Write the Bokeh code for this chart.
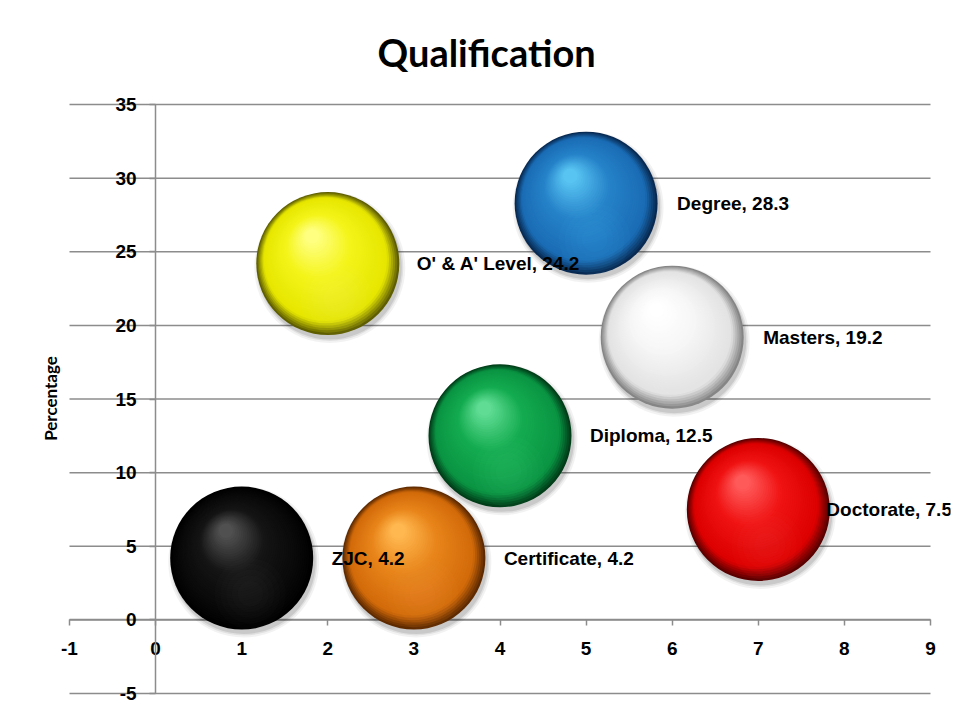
import numpy as np
from bokeh.plotting import figure
from bokeh.models import FixedTicker, Title, ColumnDataSource
from bokeh.embed import file_html
from bokeh.resources import INLINE
from bokeh.core.properties import value

# ---------------- data ----------------
categories = ["ZJC", "O' &  A' Level", "Certificate", "Diploma", "Degree", "Masters", "Doctorate"]
x_pos = [1, 2, 3, 4, 5, 6, 7]
percentage = [4.2, 24.2, 4.2, 12.5, 28.3, 19.2, 7.5]
x_ticks = [-1, 0, 1, 2, 3, 4, 5, 6, 7, 8, 9]
y_ticks = [-5, 0, 5, 10, 15, 20, 25, 30, 35]

# ---------------- style ----------------
rim_col = ["#000000", "#5e5e00", "#5e2a00", "#003d18", "#082a52", "#858585", "#5a0000"]
base_col = ["#070707", "#e6e600", "#d26a0a", "#0a9443", "#1a6cb4", "#e2e2e2", "#dc0000"]
mid_col = ["#151515", "#f4f41a", "#e8851a", "#14ac50", "#2683c9", "#f6f6f6", "#f01414"]
hi_col = ["#505050", "#ffff80", "#ffb850", "#60dc94", "#58c4f2", "#ffffff", "#ff5a5a"]
label_dx = [90, 89, 90, 90, 91, 91, 68]

# pixel layout (canvas coordinates)
W, H = 952, 710
AX_L, AX_R = 69, 930      # pixel of x=-1 and x=9
AX_T, AX_B = 104, 693     # pixel of y=35 and y=-5
FR_L, FR_R = 60, 950      # frame edges (a little beyond the axis box so labels are not clipped)
FR_T, FR_B = 90, 706
PX_X = (AX_R - AX_L) / (x_ticks[-1] - x_ticks[0])
PX_Y = (AX_B - AX_T) / (y_ticks[-1] - y_ticks[0])
x_start = x_ticks[0] - (AX_L - FR_L) / PX_X
x_end = x_ticks[-1] + (FR_R - AX_R) / PX_X
y_start = y_ticks[0] - (FR_B - AX_B) / PX_Y
y_end = y_ticks[-1] + (AX_T - FR_T) / PX_Y

D = 143.0
R = D / 2
FONT = "Liberation Sans"
GRID_COL = "#8c8c8c"

p = figure(width=W, height=H, output_backend="svg", toolbar_location=None,
           x_range=(x_start, x_end), y_range=(y_start, y_end),
           min_border_left=FR_L, min_border_right=W - FR_R,
           min_border_top=FR_T, min_border_bottom=H - FR_B,
           background_fill_color="white", border_fill_color="white")
p.outline_line_color = None

p.title.text = "Qualification"
p.title.text_font = "Lato"
p.title.text_font_style = "bold"
p.title.text_font_size = "38px"
p.title.text_color = "black"
p.title.align = "left"
p.title.offset = 317
p.title.standoff = 31

p.add_layout(Title(text="Percentage", align="center", text_font="Lato",
                   text_font_style="bold", text_font_size="17px",
                   text_color="black", standoff=0), "left")

# axes crossing at zero
for ax in (p.xaxis[0], p.yaxis[0]):
    ax.fixed_location = 0
    ax.axis_line_color = GRID_COL
    ax.axis_line_width = 1.5
    ax.major_tick_line_color = GRID_COL
    ax.major_tick_line_width = 1.5
    ax.minor_tick_line_color = None
    ax.major_tick_in = 0
    ax.major_tick_out = 6
    ax.major_label_text_font = FONT
    ax.major_label_text_font_style = "bold"
    ax.major_label_text_font_size = "19px"
    ax.major_label_text_color = "black"
    ax.level = "underlay"
p.xaxis.ticker = FixedTicker(ticks=x_ticks)
p.yaxis.ticker = FixedTicker(ticks=y_ticks)
p.xaxis.major_label_overrides = {t: str(t) for t in x_ticks}
p.yaxis.major_label_overrides = {t: str(t) for t in y_ticks}
p.xaxis.bounds = (x_ticks[0], x_ticks[-1])
p.yaxis.bounds = (y_ticks[0], y_ticks[-1])
p.xaxis.major_label_standoff = 16
p.yaxis.major_label_standoff = 13

# horizontal gridlines limited to the axis box
p.xgrid.grid_line_color = None
p.ygrid.grid_line_color = None
n = len(y_ticks)
p.segment(x0=[x_ticks[0]] * n, x1=[x_ticks[-1]] * n, y0=y_ticks, y1=y_ticks,
          line_color=GRID_COL, line_width=1.5, level="underlay")


def hex2rgb(h):
    h = h.lstrip("#")
    return np.array([int(h[i:i + 2], 16) for i in (0, 2, 4)], dtype=float)


def rgb2hex(c):
    c = np.clip(np.round(c), 0, 255).astype(int)
    return "#%02x%02x%02x" % tuple(c)


def shade(i, t):
    stops = [(0.0, rim_col[i]), (0.14, base_col[i]), (0.6, mid_col[i]), (1.0, hi_col[i])]
    for (t0, c0), (t1, c1) in zip(stops[:-1], stops[1:]):
        if t <= t1:
            f = (t - t0) / (t1 - t0)
            return rgb2hex(hex2rgb(c0) * (1 - f) + hex2rgb(c1) * f)
    return hi_col[i]


xs = np.array(x_pos, dtype=float)
ys = np.array(percentage, dtype=float)

# soft drop shadow
for grow, a in [(8, 0.05), (4, 0.07), (1, 0.10)]:
    p.scatter(xs + 2 / PX_X, ys - 4 / PX_Y, size=D + grow, color="black",
              alpha=a, line_color=None)

# sphere body: stacked circles forming a radial gradient toward an upper-left highlight
N = 40
HX, HY = -0.22 * R, 0.38 * R
for j in range(N):
    t = j / (N - 1)
    size = D * (1 - 0.9 * t)
    cols = [shade(i, t) for i in range(len(xs))]
    p.scatter(xs + t * HX / PX_X, ys + t * HY / PX_Y, size=size,
              fill_color=cols, line_color=None)

# faint reflection near the bottom
for size_f in [0.5, 0.42, 0.34, 0.26, 0.18]:
    p.scatter(xs + 0.12 * R / PX_X, ys - 0.5 * R / PX_Y, size=D * size_f,
              fill_color=hi_col, fill_alpha=0.035, line_color=None)

labels = ["%s, %s" % (c, v) for c, v in zip(categories, percentage)]
src = ColumnDataSource(dict(x=x_pos, y=percentage, text=labels, dx=label_dx))
p.text(x="x", y="y", text="text", x_offset="dx", source=src,
       text_baseline="middle", text_align="left",
       text_font=value(FONT), text_font_style="bold",
       text_font_size="19px", text_color="black")

open("out.html", "w").write(file_html(p, INLINE))
